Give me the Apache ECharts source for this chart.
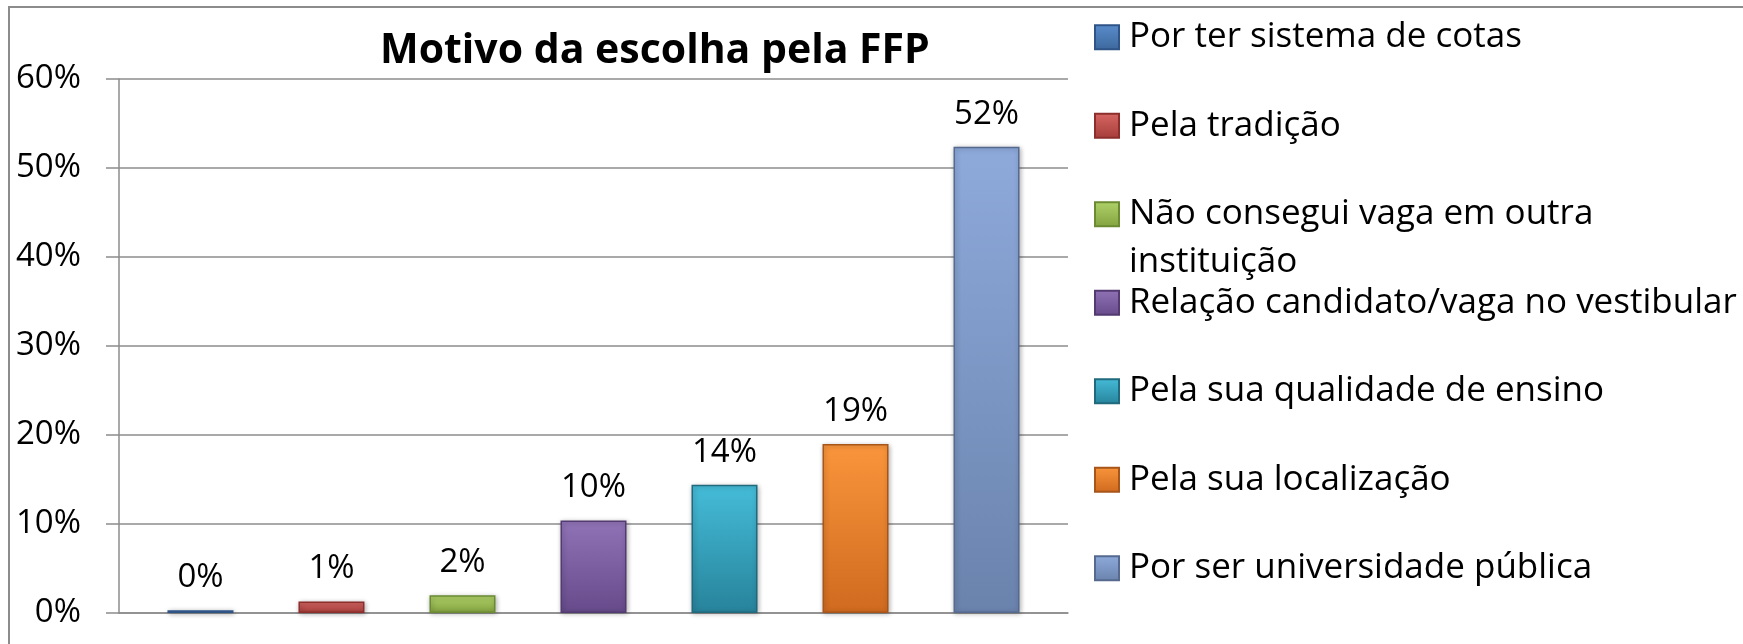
<!DOCTYPE html>
<html>
<head>
<meta charset="utf-8">
<script src="https://cdn.jsdelivr.net/npm/echarts@6/dist/echarts.min.js"></script>
<style>
  html, body { margin: 0; padding: 0; background: #fff; }
  #grafica { width: 1743px; height: 644px; }
</style>
</head>
<body>
<div id="grafica"></div>
<script>
// Datos
const titulo = 'Motivo da escolha pela FFP';
const motivos = [
    'Por ter sistema de cotas',
    'Pela tradição',
    'Não consegui vaga em outra instituição',
    'Relação candidato/vaga no vestibular',
    'Pela sua qualidade de ensino',
    'Pela sua localização',
    'Por ser universidade pública'
];
const valores = [0.3, 1.3, 2.0, 10.4, 14.4, 19.0, 52.4];
const yMax = 60;
const yPaso = 10;

// Colores (arriba, abajo, borde)
const colorArriba = ['#5a8dcc', '#d66663', '#b0d26a', '#9073b6', '#45bcd8', '#fa953c', '#8eaadb'];
const colorAbajo  = ['#3c679c', '#a53d3a', '#82a23f', '#664a8a', '#27839b', '#cf6a1f', '#6a83ad'];
const colorBorde  = ['#2f5487', '#8c2f2c', '#6b8a32', '#533a70', '#21697c', '#a8551a', '#56698e'];

const gris = '#8c8c8c';
const fuente = 'Open Sans';

const chartDom = document.getElementById('grafica');
const myChart = echarts.init(chartDom, null, { renderer: 'canvas' });

// centro vertical de cada entrada de la leyenda
const centroLeyenda = (i) => 37.3 + i * 88.5;

const option = {
    animation: false,
    title: {
        text: titulo,
        left: 380,
        top: 26,
        padding: 0,
        textStyle: { fontFamily: fuente, fontWeight: 'bold', fontSize: 41, lineHeight: 50, color: '#000' }
    },
    graphic: [
        {
            type: 'rect',
            shape: { x: 9, y: 7, width: 1800, height: 700 },
            style: { fill: 'none', stroke: gris, lineWidth: 2 },
            silent: true
        }
    ],
    legend: motivos.map((nombre, i) => ({
        data: [nombre],
        orient: 'vertical',
        left: 1094,
        top: i === 2 ? centroLeyenda(i) - 72 : centroLeyenda(i) - 24,
        padding: 0,
        itemWidth: 24,
        itemHeight: 24,
        icon: 'rect',
        selectedMode: false,
        // linea vacia arriba para que la primera linea quede junto al icono
        formatter: (n) => n === motivos[2] ? '\nNão consegui vaga em outra\ninstituição' : n,
        textStyle: {
            fontFamily: fuente,
            fontSize: 35,
            lineHeight: 48,
            color: '#000',
            padding: [0, 0, 0, 5]
        }
    })),
    grid: {
        left: 119,
        right: 675,
        top: 79,
        bottom: 31,
        outerBoundsMode: 'none'
    },
    xAxis: {
        type: 'category',
        data: [''],
        axisLine: { show: true, lineStyle: { color: gris, width: 1.5 } },
        axisTick: { show: false },
        axisLabel: { show: false },
        splitLine: { show: false }
    },
    yAxis: {
        type: 'value',
        min: 0,
        max: yMax,
        interval: yPaso,
        axisLine: { show: true, lineStyle: { color: gris, width: 1.5 } },
        axisTick: { show: true, length: 13, lineStyle: { color: gris, width: 1.5 } },
        axisLabel: { formatter: '{value}%', margin: 38, fontFamily: fuente, fontSize: 33, color: '#000' },
        splitLine: { show: true, lineStyle: { color: gris, width: 1.5 } }
    },
    series: motivos.map((nombre, i) => ({
        name: nombre,
        type: 'bar',
        data: [valores[i]],
        barWidth: 66,
        barGap: '98.5%',
        itemStyle: {
            color: new echarts.graphic.LinearGradient(0, 0, 0, 1, [
                { offset: 0, color: colorArriba[i] },
                { offset: 1, color: colorAbajo[i] }
            ]),
            borderColor: colorBorde[i],
            borderWidth: 1.5,
            shadowBlur: 5,
            shadowColor: 'rgba(0,0,0,0.3)',
            shadowOffsetX: 1,
            shadowOffsetY: 1
        },
        label: {
            show: true,
            position: 'top',
            distance: 16,
            formatter: (p) => Math.round(p.value) + '%',
            fontFamily: fuente,
            fontSize: 33,
            lineHeight: 33,
            color: '#000'
        }
    }))
};

option && myChart.setOption(option);
</script>
</body>
</html>
